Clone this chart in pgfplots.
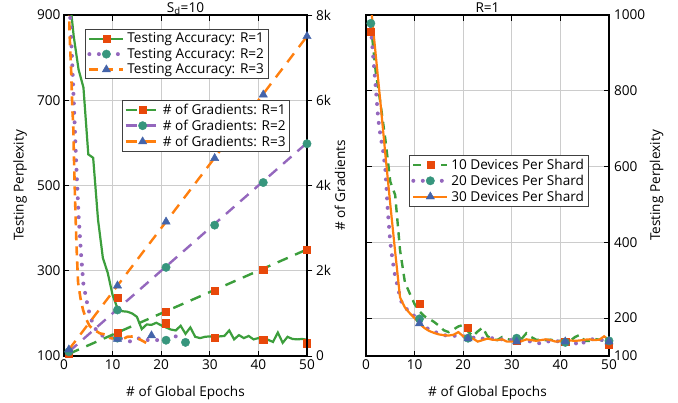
\documentclass[border=0pt]{standalone}
\usepackage{pgfplots}
\pgfplotsset{compat=1.18}
\usepackage{fontspec}
\setmainfont{Open Sans}
\newcommand{\fs}{\fontsize{13.6pt}{16pt}\selectfont}
\definecolor{cgreen}{RGB}{60,158,60}
\definecolor{cpurple}{RGB}{148,103,189}
\definecolor{corange}{RGB}{255,127,14}
\definecolor{cred}{RGB}{232,72,10}
\definecolor{cteal}{RGB}{55,150,125}
\definecolor{cblue}{RGB}{68,100,170}
\pgfplotsset{
  myax/.style={
    scale only axis, width=243pt, height=341pt,
    xmin=0, xmax=50, xtick={0,10,...,50},
    tick align=inside, major tick length=5.5pt,
    tick style={black, line width=0.9pt},
    axis line style={black, line width=1.2pt},
    ticklabel style={font=\fs},
    label style={font=\fs},
    every axis title/.style={font=\fs, at={(0.5,1)}, anchor=base, yshift=2.5pt, inner sep=0pt},
    /pgf/number format/assume math mode=true,
    /pgf/number format/1000 sep={},
    scaled y ticks=false,
    grid style={color=black!20, line width=0.8pt},
    legend cell align=left,
    legend style={font=\fs, draw=black!75, line width=0.8pt, fill=white,
      inner xsep=2pt, inner ysep=1.5pt, row sep=0pt},
    legend image code/.code={\draw[mark repeat=2,mark phase=2,##1] plot coordinates {(0pt,0pt) (17pt,0pt) (34pt,0pt)};},
    clip=true,
  },
  sA/.style={cgreen, line width=2.2pt, solid},
  sB/.style={cpurple, line width=4pt, line cap=round, dash pattern=on 0pt off 9.5pt},
  sC/.style={corange, line width=2.6pt, dash pattern=on 9pt off 6pt},
  gA/.style={cgreen, line width=2.4pt, dash pattern=on 11pt off 8pt},
  gB/.style={cpurple, line width=2.4pt, dash pattern=on 11pt off 8pt},
  gC/.style={corange, line width=2.4pt, dash pattern=on 11pt off 8pt},
  mA/.style={mark=square*, mark size=3.6pt, mark options={solid, fill=cred, draw=cred, line width=0.4pt}},
  mB/.style={mark=*, mark size=4.2pt, mark options={solid, fill=cteal, draw=cteal, line width=0.4pt}},
  mC/.style={mark=triangle*, mark size=4.8pt, mark options={solid, fill=cblue, draw=cblue, line width=0.4pt}},
}
\begin{document}
\begin{tikzpicture}[font=\fs]
\useasboundingbox (0,0) rectangle (678pt,402pt);
% ---------------- left plot, accuracy (left axis)
\begin{axis}[myax, at={(64pt,46pt)}, anchor=south west,
  ymin=100, ymax=900, ytick={100,300,500,700,900}, ytick pos=left,
  grid=major,
  xlabel={\# of Global Epochs},
  xlabel style={at={(axis description cs:0.5,-0.1085)}, anchor=center},
  ylabel={Testing Perplexity},
  ylabel style={at={(axis description cs:-0.181,0.5)}, anchor=center},
  title={S\textsubscript{d}=10},
  legend style={at={(0.0864,0.959)}, anchor=north west}]
\addplot[sA, forget plot] coordinates {(1,960)(2,850)(3,772)(4,730)(5,573)(6,565)(7,420)(8,330)(9,295)(10,243)(11,212)(12,205)(13,204)(14,200)(15,192)(16,163)(17,174)(18,173)(19,178)(20,172)(21,167)(22,162)(23,160)(24,171)(25,152)(26,167)(27,145)(28,142)(29,145)(30,146)(31,145)(32,146)(33,147)(34,160)(35,139)(36,149)(37,142)(38,147)(39,139)(40,142)(41,140)(42,138)(43,133)(44,155)(45,131)(46,145)(47,140)(48,139)(49,140)(50,138)};
\addplot[only marks, mA, forget plot] coordinates {(1,960)(11,237)(21,177)(31,142)(41,138)(50,130)};
\addplot[sB, forget plot] coordinates {(1,960)(1.5,840)(2,700)(2.5,555)(3,430)(3.5,340)(4,268)(5,210)(6,172)(7,155)(8,147)(9,144)(10,143)(11,143)(12,140)(13,135)(14,134)(15,140)(16,143)(17,138)(18,136)(19,137)(20,139)(21,141)(22,143)(23,146)(24,148)(24.7,150)};
\addplot[only marks, mB, forget plot] coordinates {(1,960)(11,142)(21,137)(25,132)};
\addplot[sC, forget plot] coordinates {(1,920)(1.2,842)(1.5,762)(1.7,683)(1.9,643)(2.0,588)(2.2,500)(2.4,420)(2.6,351)(2.9,272)(3.4,235)(3.9,209)(4.5,188)(5.3,170)(6,163)(6.7,158)(7.4,153)(8.7,150)(9.5,142)(11,141)(12.2,140)(13,145)(14.3,146)(15.6,139)(16.4,134)(17,130)};
\addplot[only marks, mC, forget plot] coordinates {(1,920)(11,140)(18,148)};
\addlegendimage{sA, mA}
\addlegendentry{Testing Accuracy: R=1}
\addlegendimage{sB, mB}
\addlegendentry{Testing Accuracy: R=2}
\addlegendimage{sC, mC}
\addlegendentry{Testing Accuracy: R=3}
\end{axis}
% ---------------- left plot, gradients (right axis)
\begin{axis}[myax, at={(64pt,46pt)}, anchor=south west,
  ymin=0, ymax=8000, ytick={0,2000,4000,6000,8000}, yticklabels={0,2k,4k,6k,8k},
  axis y line*=right, axis x line=none, ytick align=outside,
  ylabel={\# of Gradients},
  ylabel style={at={(axis description cs:1.136,0.5)}, anchor=center},
  legend style={at={(0.930,0.751)}, anchor=north east}]
\addplot[gA, forget plot] coordinates {(1,50)(11,550)(21,1050)(31,1550)(41,2050)(50,2500)};
\addplot[only marks, mA, forget plot] coordinates {(1,50)(11,540)(21,1030)(31,1530)(41,2020)(50,2490)};
\addplot[gB, forget plot] coordinates {(1,100)(11,1100)(21,2100)(31,3100)(41,4100)(50,5000)};
\addplot[only marks, mB, forget plot] coordinates {(1,100)(11,1080)(21,2080)(31,3070)(41,4070)(50,4980)};
\addplot[gC, forget plot] coordinates {(1,150)(11,1650)(21,3150)(31,4650)(41,6150)(50,7500)};
\addplot[only marks, mC, forget plot] coordinates {(1,150)(11,1650)(21,3150)(31,4640)(41,6130)(50,7500)};
\addlegendimage{gA, mA}
\addlegendentry{\# of Gradients: R=1}
\addlegendimage{gB, mB}
\addlegendentry{\# of Gradients: R=2}
\addlegendimage{gC, mC}
\addlegendentry{\# of Gradients: R=3}
\end{axis}
% ---------------- right plot
\begin{axis}[myax, at={(366pt,46pt)}, anchor=south west,
  ymin=100, ymax=1000, ytick={100,200,400,600,800,1000},
  ytick pos=both, yticklabel pos=right,
  yticklabel style={xshift=1.5pt},
  grid=major,
  xlabel={\# of Global Epochs},
  xlabel style={at={(axis description cs:0.5,-0.1085)}, anchor=center},
  ylabel={Testing Perplexity},
  ylabel style={at={(axis description cs:1.196,0.5)}, anchor=center},
  title={R=1},
  legend style={at={(0.915,0.589)}, anchor=north east}]
\addplot[gA, dash pattern=on 8pt off 6pt, forget plot] coordinates {(1,975)(2,850)(3,765)(4,670)(5,560)(6,525)(7,380)(8,295)(9,265)(10,237)(11,218)(12,205)(13,198)(14,190)(15,180)(16,168)(17,163)(18,170)(19,178)(20,182)(21,165)(22,152)(23,165)(24,175)(25,152)(26,145)(27,142)(28,150)(29,145)(30,142)(31,140)(32,145)(33,160)(34,150)(35,143)(36,142)(37,142)(38,143)(39,140)(40,140)(41,142)(42,140)(43,150)(44,156)(45,140)(46,140)(47,145)(48,143)(49,140)(50,136)};
\addplot[only marks, mA, forget plot] coordinates {(1,956)(11,237)(21,175)(31,140)(41,137)(50,129)};
\addplot[sB, forget plot] coordinates {(1,965)(2,810)(2.5,727)(3,679)(3.5,644)(4,590)(4.5,480)(5,400)(5.5,350)(6,310)(6.5,285)(7,255)(7.5,235)(8,228)(9,217)(10,205)(11,192)(12,178)(13,170)(14,164)(15,160)(16,155)(17,154)(18,153)(19,154)(20,152)(21,150)(22,148)(23,150)(24,146)(25,145)(26,147)(27,145)(28,144)(29,142)(30,142)(31,143)(32,140)(33,140)(34,138)(35,135)(36,133)(37,137)(38,140)(39,138)(40,140)(41,138)(42,140)(43,135)(44,127)(45,138)(46,143)(47,145)(48,142)(49,143)(50,140)};
\addplot[only marks, mB, forget plot] coordinates {(1,978)(11,198)(21,147)(31,147)(41,136)(50,140)};
\addplot[corange, line width=2.2pt, solid, forget plot] coordinates {(1,1025)(2,895)(3,765)(4,630)(5,500)(6,375)(7,255)(8,228)(9,213)(10,200)(11,186)(12,174)(13,166)(14,161)(15,157)(16,155)(17,154)(18,156)(19,163)(20,152)(21,150)(22,146)(23,138)(24,142)(25,146)(26,143)(27,142)(28,144)(29,138)(30,138)(31,138)(32,139)(33,144)(34,142)(35,140)(36,142)(37,144)(38,142)(39,138)(40,139)(41,142)(42,141)(43,140)(44,141)(45,143)(46,144)(47,142)(48,143)(49,152)(50,142)};
\addplot[only marks, mC, forget plot] coordinates {(1,1025)(11,186)(21,146)(31,138)(41,138)(50,138)};
\addlegendimage{gA, dash pattern=on 8pt off 6pt, mA}
\addlegendentry{10 Devices Per Shard}
\addlegendimage{sB, mB}
\addlegendentry{20 Devices Per Shard}
\addlegendimage{corange, line width=2.2pt, solid, mC}
\addlegendentry{30 Devices Per Shard}
\end{axis}
\end{tikzpicture}
\end{document}
